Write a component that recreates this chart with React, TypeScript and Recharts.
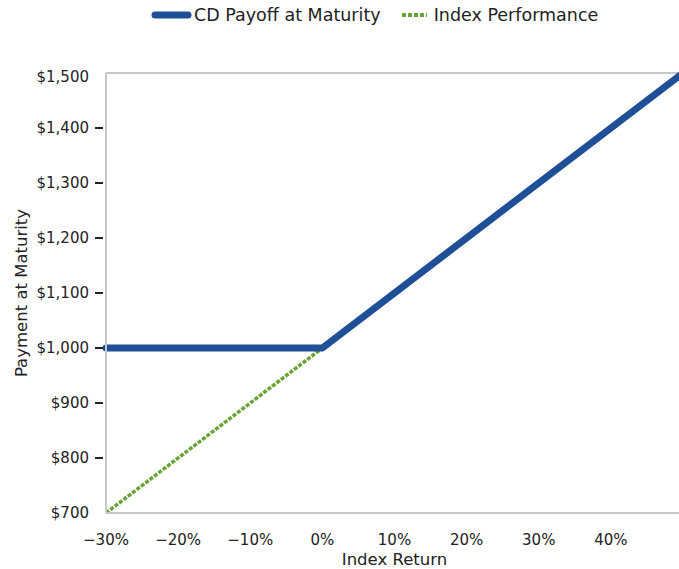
import { LineChart, Line, XAxis, YAxis, ReferenceLine, Legend } from 'recharts';

const indexReturns = [-30, 0, 50];
const cdPayoff = [1000, 1000, 1500];
const indexPerformance: (number | null)[] = [700, 1000, null];
const xTicks = [-30, -20, -10, 0, 10, 20, 30, 40];
const yTicks = [700, 800, 900, 1000, 1100, 1200, 1300, 1400, 1500];

const data = indexReturns.map((r, i) => ({
  ret: r,
  cd: cdPayoff[i],
  index: indexPerformance[i],
}));

const FONT = '"DejaVu Sans", sans-serif';
const BLUE = '#1f4f97';
const GREEN = '#6aa436';
const AXIS_GREY = '#c8c8c8';

const YTick = (props: any) => {
  const { x, y, payload } = props;
  const v = payload.value as number;
  const isEnd = v === yTicks[0] || v === yTicks[yTicks.length - 1];
  return (
    <g>
      {!isEnd && <line x1={x - 11} x2={x - 3} y1={y} y2={y} stroke="#222" strokeWidth={2} />}
      <text x={x - 17} y={y + (v === 1500 ? 4 : 0)} dy="0.35em" textAnchor="end" fontSize={15} fontFamily={FONT} fill="#222">
        {'$' + v.toLocaleString('en-US')}
      </text>
    </g>
  );
};

const XTick = (props: any) => {
  const { x, y, payload } = props;
  const v = payload.value as number;
  const label = (v < 0 ? '\u2212' + Math.abs(v) : String(v)) + '%';
  return (
    <text x={x} y={y + 32} textAnchor="middle" fontSize={15} fontFamily={FONT} fill="#222">
      {label}
    </text>
  );
};

const LegendContent = () => (
  <div style={{ display: 'flex', alignItems: 'center', fontFamily: FONT, fontSize: 17.5, color: '#222' }}>
    <svg width={42} height={12}>
      <line x1={4} x2={37} y1={6} y2={6} stroke={BLUE} strokeWidth={7} strokeLinecap="round" />
    </svg>
    <span style={{ marginLeft: 1 }}>CD Payoff at Maturity</span>
    <svg width={32} height={12} style={{ marginLeft: 18 }}>
      <line x1={3} x2={28} y1={6} y2={6} stroke={GREEN} strokeWidth={4} strokeDasharray="4 2" />
    </svg>
    <span style={{ marginLeft: 3 }}>Index Performance</span>
  </div>
);

export default function App() {
  return (
    <div style={{ position: 'absolute', left: 0, top: 0, width: 679, height: 569, overflow: 'hidden', background: '#fff' }}>
      <LineChart width={720} height={569} data={data} margin={{ top: 73, right: 37, bottom: 0, left: 0 }}>
        <Legend
          layout="horizontal"
          verticalAlign="middle"
          align="center"
          content={<LegendContent />}
          wrapperStyle={{ top: 5, left: 151, width: 480 }}
        />
        <XAxis
          dataKey="ret"
          type="number"
          domain={[-30, 50]}
          ticks={xTicks}
          height={56}
          tickSize={0}
          tickMargin={0}
          tickLine={false}
          axisLine={{ stroke: AXIS_GREY, strokeWidth: 2 }}
          tick={<XTick />}
          label={{
            value: 'Index Return',
            content: (p: any) => {
              const vb = p.viewBox;
              return (
                <text x={vb.x + vb.width / 2} y={vb.y + 52} textAnchor="middle" fontSize={16.5} fontFamily={FONT} fill="#222">
                  Index Return
                </text>
              );
            },
          }}
        />
        <YAxis
          type="number"
          domain={[700, 1500]}
          ticks={yTicks}
          width={106}
          tickSize={0}
          tickMargin={0}
          tickLine={false}
          axisLine={{ stroke: AXIS_GREY, strokeWidth: 2 }}
          tick={<YTick />}
          label={{
            value: 'Payment at Maturity',
            content: (p: any) => {
              const vb = p.viewBox;
              const cy = vb.y + vb.height / 2;
              return (
                <text x={27} y={cy} transform={`rotate(-90, 27, ${cy})`} textAnchor="middle" fontSize={16.5} fontFamily={FONT} fill="#222">
                  Payment at Maturity
                </text>
              );
            },
          }}
        />
        <ReferenceLine y={1500} stroke={AXIS_GREY} strokeWidth={2} />
        <ReferenceLine x={50} stroke={AXIS_GREY} strokeWidth={2} />
        <Line
          dataKey="index"
          name="Index Performance"
          stroke={GREEN}
          strokeWidth={3.5}
          strokeDasharray="4 1.5"
          dot={false}
          activeDot={false}
          connectNulls={false}
          isAnimationActive={false}
        />
        <Line
          dataKey="cd"
          name="CD Payoff at Maturity"
          stroke={BLUE}
          strokeWidth={7}
          strokeLinecap="round"
          strokeLinejoin="round"
          dot={false}
          activeDot={false}
          isAnimationActive={false}
        />
      </LineChart>
    </div>
  );
}
